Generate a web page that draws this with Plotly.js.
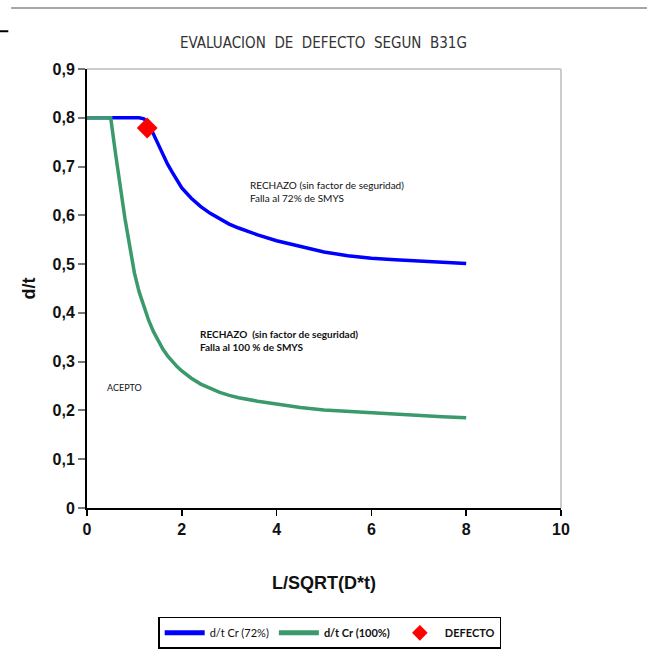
<!DOCTYPE html>
<html>
<head>
<meta charset="utf-8">
<script src="https://cdn.plot.ly/plotly-3.0.1.min.js"></script>
<style>html,body{margin:0;padding:0;background:#fff;}#chart{width:647px;height:653px;}</style>
</head>
<body>
<div id="chart"></div>
<script>
// Data
const blueX = [0, 0.5, 1.0, 1.1, 1.2, 1.3, 1.4, 1.5, 1.6, 1.7, 1.8, 1.9, 2.0, 2.2, 2.4, 2.6, 2.8, 3.0, 3.2, 3.6, 4.0, 4.5, 5.0, 5.5, 6.0, 6.5, 7.0, 7.5, 8.0];
const blueY = [0.8, 0.8, 0.8, 0.8, 0.798, 0.788, 0.767, 0.745, 0.724, 0.705, 0.688, 0.671, 0.656, 0.635, 0.618, 0.604, 0.592, 0.582, 0.574, 0.56, 0.548, 0.536, 0.525, 0.517, 0.512, 0.509, 0.506, 0.503, 0.501];
const greenX = [0, 0.5, 0.6, 0.7, 0.8, 0.9, 1.0, 1.1, 1.2, 1.3, 1.4, 1.5, 1.6, 1.7, 1.8, 1.9, 2.0, 2.2, 2.4, 2.6, 2.8, 3.0, 3.2, 3.6, 4.0, 4.5, 5.0, 5.5, 6.0, 6.5, 7.0, 7.5, 8.0];
const greenY = [0.8, 0.8, 0.728, 0.656, 0.594, 0.538, 0.482, 0.443, 0.412, 0.385, 0.362, 0.342, 0.326, 0.312, 0.300, 0.290, 0.281, 0.266, 0.254, 0.245, 0.237, 0.231, 0.226, 0.219, 0.213, 0.206, 0.201, 0.198, 0.195, 0.192, 0.190, 0.187, 0.185];
const defectX = [1.27];
const defectY = [0.779];
const seriesNames = ['d/t Cr (72%)', '<b>d/t Cr (100%)</b>', '<b>DEFECTO</b>'];
const xTicks = [0, 2, 4, 6, 8, 10];
const xTickText = ['0', '2', '4', '6', '8', '10'];
const yTicks = [0, 0.1, 0.2, 0.3, 0.4, 0.5, 0.6, 0.7, 0.8, 0.9];
const yTickText = ['0', '0,1', '0,2', '0,3', '0,4', '0,5', '0,6', '0,7', '0,8', '0,9'];

const traces = [
  {x: blueX, y: blueY, mode: 'lines', name: seriesNames[0], line: {color: '#0000ff', width: 3.5, shape: 'linear'}},
  {x: greenX, y: greenY, mode: 'lines', name: seriesNames[1], line: {color: '#3a9a6c', width: 3.5, shape: 'linear'}},
  {x: defectX, y: defectY, mode: 'markers', name: seriesNames[2], marker: {symbol: 'diamond', color: '#ff0000', size: 16}}
];

const annFont = {family: 'Lato, Open Sans, sans-serif', size: 10, color: '#111'};
const layout = {
  width: 647, height: 653,
  margin: {l: 87, r: 86, t: 69, b: 145, autoexpand: false},
  paper_bgcolor: '#fff', plot_bgcolor: '#fff',
  showlegend: true,
  title: {text: 'EVALUACION  DE  DEFECTO  SEGUN  B31G', x: 0.5, xanchor: 'center', y: 0.935, yanchor: 'middle',
          font: {family: 'Liberation Sans Narrow, DejaVu Sans Condensed, DejaVu Sans, sans-serif', size: 15, color: '#333'}},
  xaxis: {range: [0, 10], tickvals: xTicks, ticktext: xTickText, showgrid: false, zeroline: false,
          showline: true, linecolor: '#000', linewidth: 2, ticks: 'outside', ticklen: 6, tickcolor: '#000', tickwidth: 1.5,
          tickfont: {family: 'Liberation Sans, Arial, sans-serif', size: 16, weight: 'bold', color: '#111'},
          title: {text: 'L/SQRT(D*t)', standoff: 39, font: {family: 'Liberation Sans, Arial, sans-serif', size: 18, weight: 'bold', color: '#111'}}},
  yaxis: {range: [0, 0.9], tickvals: yTicks, ticktext: yTickText, showgrid: false, zeroline: false,
          showline: true, linecolor: '#000', linewidth: 2, ticks: 'outside', ticklen: 7, tickcolor: '#777', tickwidth: 2,
          tickfont: {family: 'Liberation Sans, Arial, sans-serif', size: 16, weight: 'bold', color: '#111'},
          title: {text: 'd/t', standoff: 12, font: {family: 'Liberation Sans, Arial, sans-serif', size: 18, weight: 'bold', color: '#111'}}},
  legend: {orientation: 'h', x: 0.512, xanchor: 'center', y: -0.248, yanchor: 'top',
           bordercolor: '#000', borderwidth: 1.5, bgcolor: '#fff', itemsizing: 'constant',
           font: {family: 'Lato, Open Sans, sans-serif', size: 11, color: '#111'},
           itemwidth: 40, tracegroupgap: 0},
  shapes: [
    {type: 'line', xref: 'paper', yref: 'paper', x0: 0, x1: 1, y0: 1, y1: 1, line: {color: '#cccccc', width: 2}},
    {type: 'line', xref: 'paper', yref: 'paper', x0: 1, x1: 1, y0: 0, y1: 1, line: {color: '#cccccc', width: 2}},
    {type: 'line', xref: 'paper', yref: 'paper', x0: -0.16, x1: 1.2, y0: 1.139, y1: 1.139, line: {color: '#888', width: 1.5}},
    {type: 'line', xref: 'paper', yref: 'paper', x0: -0.184, x1: -0.166, y0: 1.086, y1: 1.086, line: {color: '#000', width: 2}}
  ],
  annotations: [
    {xref: 'x', yref: 'y', x: 3.40, y: 0.648, xanchor: 'left', yanchor: 'middle', showarrow: false, align: 'left',
     text: 'RECHAZO (sin factor de seguridad)<br>Falla al 72% de SMYS', font: annFont},
    {xref: 'x', yref: 'y', x: 2.34, y: 0.343, xanchor: 'left', yanchor: 'middle', showarrow: false, align: 'left',
     text: 'RECHAZO  (sin factor de seguridad)<br>Falla al 100 % de SMYS', font: {family: 'Lato, Open Sans, sans-serif', size: 10, weight: 'bold', color: '#111'}},
    {xref: 'x', yref: 'y', x: 0.38, y: 0.247, xanchor: 'left', yanchor: 'middle', showarrow: false,
     text: 'ACEPTO', font: {family: 'Lato, Open Sans, sans-serif', size: 9, color: '#111'}}
  ]
};

Plotly.newPlot('chart', traces, layout, {displayModeBar: false, staticPlot: true});
</script>
</body>
</html>
